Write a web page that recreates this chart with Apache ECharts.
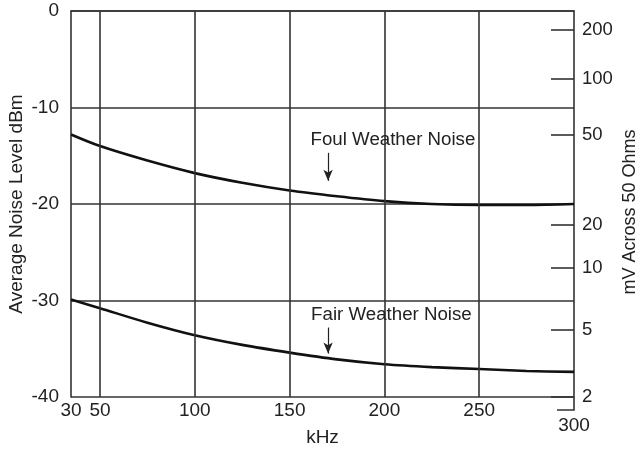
<!DOCTYPE html>
<html>
<head>
<meta charset="utf-8">
<script src="https://cdn.jsdelivr.net/npm/echarts@6/dist/echarts.min.js"></script>
<style>html,body{margin:0;padding:0;background:#fff}#c{width:643px;height:454px}</style>
</head>
<body>
<div id="c"></div>
<script>
// ---- data ----
const foulKHz   = [30, 50, 75, 100, 125, 150, 175, 200, 225, 250, 275, 300];
const foulDBm   = [-12.8, -14.0, -15.5, -16.8, -17.8, -18.6, -19.2, -19.7, -20.0, -20.1, -20.1, -20.0];
const fairKHz   = [30, 50, 75, 100, 125, 150, 175, 200, 225, 250, 275, 300];
const fairDBm   = [-29.9, -30.8, -32.3, -33.6, -34.6, -35.4, -36.1, -36.6, -36.9, -37.1, -37.3, -37.4];
const xTicks    = [30, 50, 100, 150, 200, 250, 300];
const xGrid     = [50, 100, 150, 200, 250];
const yTicks    = [0, -10, -20, -30, -40];
const mvLabels  = [200, 100, 50, 20, 10, 5, 2];
const mvPosDBm  = [-1.97, -7.05, -12.85, -22.18, -26.6, -33.06, -40];
const foulNote  = {text: 'Foul Weather Noise', at: [204.5, -13.4], arrow: [[170.3, -14.7], [170.3, -17.6]]};
const fairNote  = {text: 'Fair Weather Noise', at: [203.7, -31.5], arrow: [[170.3, -32.8], [170.3, -35.5]]};
// The drawing squeezes the 30 kHz label onto the left edge of a linear 50..300 scale
const X_LEFT = 34.7;

const FONT = 'Liberation Sans, Arial, sans-serif';
const INK = '#222';
const FS = 19;
const toX = k => Math.max(k, X_LEFT);

const chart = echarts.init(document.getElementById('c'), null, {renderer: 'canvas'});

function noteSeries(note) {
  return {
    type: 'line', data: [], silent: true,
    markPoint: {
      symbol: 'circle', symbolSize: 0, silent: true,
      label: {show: true, formatter: note.text, color: INK, fontSize: 18.7, fontFamily: FONT, position: 'inside'},
      data: [{coord: note.at}]
    },
    markLine: {
      silent: true, symbol: ['none', 'arrow'], symbolSize: [7, 11],
      lineStyle: {color: INK, width: 1.2, type: 'solid'},
      label: {show: false},
      data: [[{coord: note.arrow[0]}, {coord: note.arrow[1]}]]
    }
  };
}

chart.setOption({
  animation: false,
  backgroundColor: '#fff',
  grid: {left: 71, right: 69, top: 11, bottom: 57, containLabel: false, outerBoundsMode: 'none'},
  xAxis: {
    type: 'value', min: X_LEFT, max: 300,
    name: 'kHz', nameLocation: 'middle', nameGap: 31, nameMoveOverlap: false,
    nameTextStyle: {color: INK, fontSize: FS, fontFamily: FONT},
    axisLine: {show: true, lineStyle: {color: '#333', width: 1.6}},
    axisTick: {show: false},
    splitLine: {show: false},
    axisLabel: {
      customValues: xTicks.map(toX),
      color: INK, fontSize: FS, fontFamily: FONT, margin: 4,
      formatter: v => {
        if (v <= X_LEFT + 0.01) return String(xTicks[0]);
        if (v === 300) return '{low|300}';
        return String(v);
      },
      rich: {low: {padding: [15, 0, 0, 0], fontSize: FS, fontFamily: FONT, color: INK}}
    }
  },
  yAxis: [{
    type: 'value', min: -40, max: 0, interval: 10, position: 'left',
    name: 'Average Noise Level dBm', nameLocation: 'middle', nameGap: 45, nameRotate: 90, nameMoveOverlap: false,
    nameTextStyle: {color: INK, fontSize: FS, fontFamily: FONT},
    axisLine: {show: true, lineStyle: {color: '#333', width: 1.6}},
    axisTick: {show: false},
    splitLine: {show: true, lineStyle: {color: '#333', width: 1.6}},
    axisLabel: {color: INK, fontSize: FS, fontFamily: FONT, margin: 12}
  }, {
    type: 'value', min: -40, max: 0, position: 'right',
    name: 'mV Across 50 Ohms', nameLocation: 'middle', nameGap: 47, nameRotate: 90, nameMoveOverlap: false,
    nameTextStyle: {color: INK, fontSize: 18, fontFamily: FONT, padding: [0, 16, 0, 0]},
    axisLine: {show: true, lineStyle: {color: '#333', width: 1.6}},
    axisTick: {show: true, inside: true, length: 23, customValues: mvPosDBm, lineStyle: {color: '#333', width: 1.6}},
    splitLine: {show: false},
    axisLabel: {
      customValues: mvPosDBm, color: INK, fontSize: 18.5, fontFamily: FONT, margin: 8,
      formatter: v => {
        const i = mvPosDBm.findIndex(p => Math.abs(p - v) < 1e-6);
        return i >= 0 ? String(mvLabels[i]) : '';
      }
    }
  }],
  series: [
    {
      name: 'Foul Weather Noise', type: 'line', smooth: 0.3, showSymbol: false, silent: true,
      lineStyle: {color: '#111', width: 2.6},
      data: foulKHz.map((k, i) => [toX(k), foulDBm[i]]),
      markLine: {
        silent: true, symbol: 'none', label: {show: false},
        lineStyle: {color: '#333', width: 1.6, type: 'solid'},
        data: xGrid.map(v => ({xAxis: v}))
      }
    },
    {
      name: 'Fair Weather Noise', type: 'line', smooth: 0.3, showSymbol: false, silent: true,
      lineStyle: {color: '#111', width: 2.6},
      data: fairKHz.map((k, i) => [toX(k), fairDBm[i]])
    },
    noteSeries(foulNote),
    noteSeries(fairNote)
  ]
});

// decoration: the right axis line runs a little below the plot with a short tick
const corner = chart.convertToPixel({gridIndex: 0}, [300, -40]);
chart.setOption({
  graphic: [{
    type: 'polyline', silent: true,
    shape: {points: [[corner[0], corner[1]], [corner[0], corner[1] + 13], [corner[0] - 17, corner[1] + 13]]},
    style: {stroke: '#333', lineWidth: 1.6, fill: null}
  }]
});
</script>
</body>
</html>
